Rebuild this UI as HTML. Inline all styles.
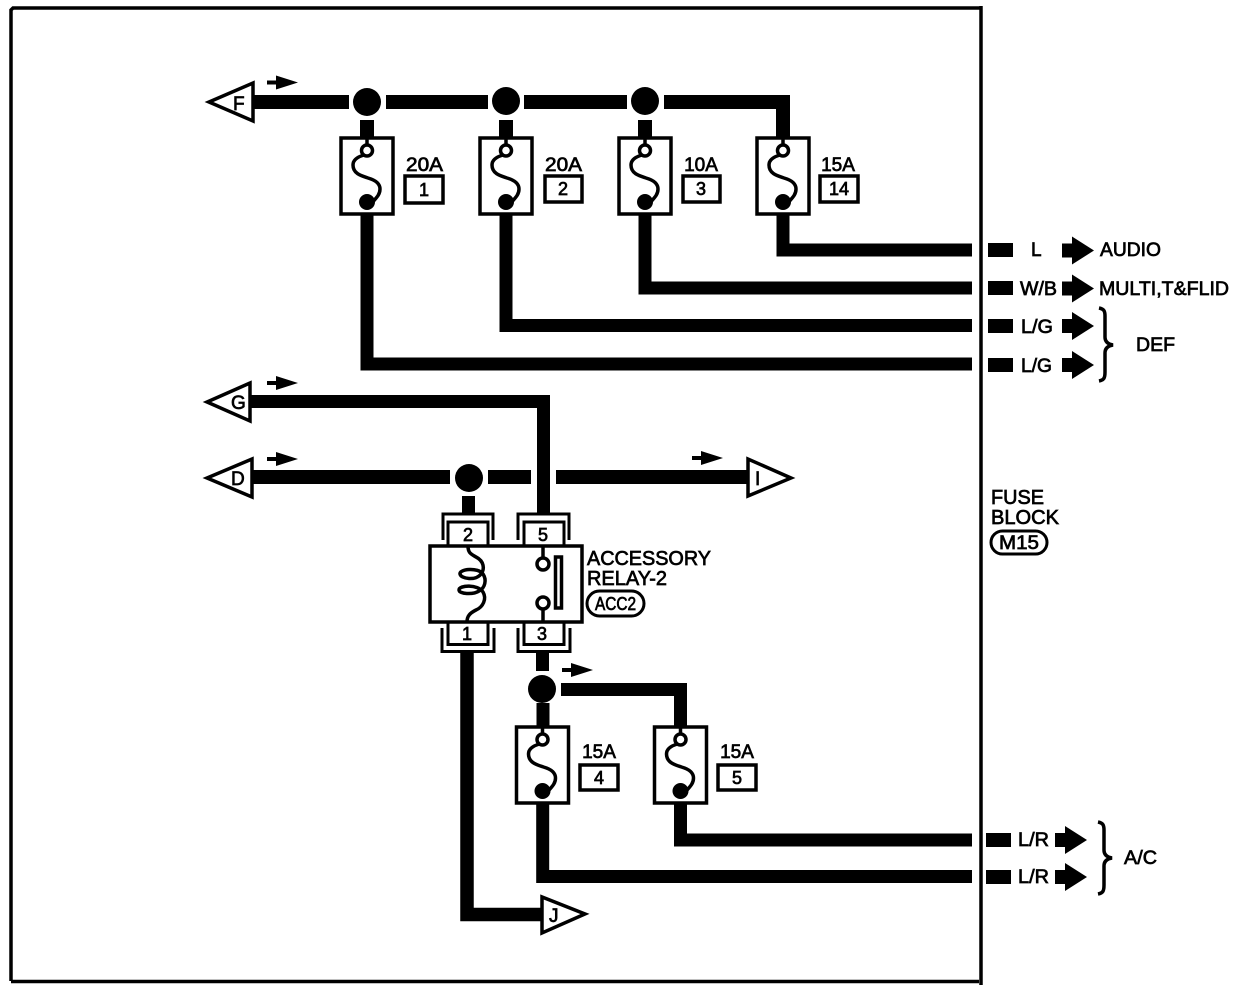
<!DOCTYPE html>
<html><head><meta charset="utf-8"><style>
html,body{margin:0;padding:0;background:#fff}
svg{display:block}
text{font-family:"Liberation Sans",sans-serif;fill:#000;stroke:#000;stroke-width:.7}
</style></head><body>
<svg width="1248" height="990" viewBox="0 0 1248 990" xmlns="http://www.w3.org/2000/svg">
<defs>
<g id="fuse">
<rect x="-26" y="0" width="52" height="76" fill="#fff" stroke="#000" stroke-width="3.5"/>
<path d="M0 0V7" stroke="#000" stroke-width="3.5" fill="none"/>
<path d="M-3 17C-10 19 -14 22 -14 27C-14 36 -5 38 1 40C8 42 13 45 13 51C13 57 9 60 4 66" stroke="#000" stroke-width="3.5" fill="none"/>
<circle cx="0" cy="12.500" r="5.500" fill="#fff" stroke="#000" stroke-width="3.500"/>
<circle cx="0" cy="64" r="8" fill="#000"/>
</g>
<g id="out"><rect x="0" y="-7" width="10" height="14"/><path d="M10 -6H10V-14L32 0L10 14V6Z"/></g>
<path id="sm" d="M0 -2H9V-7L31 0L9 7V2H0Z"/>
</defs>
<!-- frame -->
<path d="M11 981V10L13 8H981M981 6V985M11 981.5H979" fill="none" stroke="#000" stroke-width="3.5"/>
<!-- top bus -->
<g fill="none" stroke="#000">
<path d="M250 102H349M386 102H488M524 102H627M664 102H783V140" stroke-width="14"/>
<path d="M367 120V140M506 120V140M645 120V140" stroke-width="14"/>
<path d="M367 214V364H972M506 214V325.500H972M645 214V288H972M783 214V250H972" stroke-width="13"/>
</g>
<g fill="#000">
<circle cx="367" cy="102" r="14"/><circle cx="506" cy="101" r="14"/><circle cx="645" cy="101" r="14"/>
</g>
<use href="#fuse" x="367" y="138"/><use href="#fuse" x="506" y="138"/><use href="#fuse" x="645" y="138"/><use href="#fuse" x="783" y="138"/>
<!-- left/right connectors -->
<g fill="#fff" stroke="#000" stroke-width="3.500" stroke-linejoin="miter">
<path d="M253 83V121L209 102Z"/>
<path d="M250 383V421L207 402Z"/>
<path d="M252 459V497L207 478Z"/>
<path d="M748 459V496L791 478Z"/>
<path d="M542 897V933L585 914Z"/>
</g>
<g font-size="19">
<text x="233" y="110">F</text><text x="231" y="409">G</text><text x="231" y="485">D</text><text x="755" y="485">I</text><text x="549" y="922">J</text>
</g>
<!-- small arrows -->
<use href="#sm" x="267" y="82.500"/><use href="#sm" x="267" y="383"/><use href="#sm" x="267" y="459"/><use href="#sm" x="692" y="458"/><use href="#sm" x="562" y="670"/>
<!-- G, D, I wires -->
<g fill="none" stroke="#000">
<path d="M250 401.500H543.500V515" stroke-width="13"/>
<path d="M252 477H450M488 477H531M556 477H748" stroke-width="14"/>
<path d="M468.500 496V515" stroke-width="13"/>
<path d="M467 650V914.500H542" stroke-width="13.500"/>
<path d="M542.500 650V671" stroke-width="13"/>
<path d="M543 703V730" stroke-width="13"/>
<path d="M561 689.500H680.500V730" stroke-width="13"/>
<path d="M542.700 800V876.500H972M680.500 800V840H972" stroke-width="13"/>
</g>
<circle cx="469" cy="478" r="14" fill="#000"/>
<circle cx="542" cy="689" r="14" fill="#000"/>
<!-- relay sockets -->
<g fill="none" stroke="#000" stroke-width="3">
<path d="M443 540V514H493V540M448 545V522H488V545"/>
<path d="M518 540V514H569V540M524 545V522H564V545"/>
<path d="M442 628V651.500H494V628M448 623V644.500H488V623"/>
<path d="M518 628V651.500H570V628M524 623V644.500H564V623"/>
</g>
<rect x="430" y="546" width="152" height="76" fill="#fff" stroke="#000" stroke-width="3.500"/>
<g font-size="18" text-anchor="middle">
<text x="468" y="541">2</text><text x="543" y="541">5</text><text x="467" y="640">1</text><text x="542" y="640">3</text>
</g>
<g fill="none" stroke="#000" stroke-width="3.500">
<path d="M468 546C468 553 471 554 476 557C484 561 485 569 481 574C476 581 461 579 460 574C459 569 478 567 483 574C487 580 485 588 479 591C473 595 459 594 459 590C459 585 478 584 483 592C487 599 483 607 476 610C470 613 467 616 467 622"/>
<path d="M543 546V559M543 609V622"/>
<circle cx="543" cy="564" r="6" fill="#fff"/><circle cx="543" cy="603" r="6" fill="#fff"/>
<rect x="555.500" y="557" width="6" height="51"/>
</g>
<g font-size="20">
<text x="587" y="565" textLength="124" lengthAdjust="spacingAndGlyphs">ACCESSORY</text>
<text x="587" y="585" textLength="80" lengthAdjust="spacingAndGlyphs">RELAY-2</text>
</g>
<rect x="587" y="591" width="57" height="25" rx="12.500" fill="#fff" stroke="#000" stroke-width="3"/>
<text x="595" y="610" font-size="18" textLength="41" lengthAdjust="spacingAndGlyphs">ACC2</text>
<!-- lower fuses -->
<use href="#fuse" x="542.500" y="727"/><use href="#fuse" x="680.500" y="727"/>
<!-- fuse labels -->
<g font-size="19" text-anchor="middle">
<text x="424.500" y="171" textLength="37" lengthAdjust="spacingAndGlyphs">20A</text><text x="563.500" y="171" textLength="37" lengthAdjust="spacingAndGlyphs">20A</text><text x="701" y="171">10A</text><text x="838" y="171">15A</text>
<text x="599" y="758">15A</text><text x="737" y="758">15A</text>
</g>
<g fill="#fff" stroke="#000" stroke-width="3.500">
<rect x="405" y="176" width="38" height="27"/><rect x="545" y="176" width="37" height="26"/><rect x="683" y="176" width="37" height="26"/><rect x="820" y="176" width="38" height="26"/>
<rect x="580" y="765" width="38" height="25"/><rect x="718" y="765" width="38" height="25"/>
</g>
<g font-size="18" text-anchor="middle">
<text x="424" y="196">1</text><text x="563" y="195">2</text><text x="701" y="195">3</text><text x="839" y="195">14</text>
<text x="599" y="784">4</text><text x="737" y="784">5</text>
</g>
<!-- outputs -->
<g fill="#000">
<rect x="988" y="243" width="25" height="14"/><rect x="988" y="281" width="25" height="14"/><rect x="988" y="319" width="25" height="14"/><rect x="988" y="358" width="25" height="14"/>
<rect x="986" y="833" width="25" height="14"/><rect x="986" y="870" width="25" height="14"/>
</g>
<use href="#out" x="1062" y="250.500"/><use href="#out" x="1062" y="288.500"/><use href="#out" x="1062" y="326"/><use href="#out" x="1062" y="365"/>
<use href="#out" x="1055" y="840"/><use href="#out" x="1055" y="877"/>
<g font-size="19">
<text x="1031" y="256">L</text>
<text x="1020" y="295" textLength="37" lengthAdjust="spacingAndGlyphs">W/B</text>
<text x="1021" y="333" textLength="32" lengthAdjust="spacingAndGlyphs">L/G</text>
<text x="1021" y="372" textLength="31" lengthAdjust="spacingAndGlyphs">L/G</text>
<text x="1018" y="846" textLength="31" lengthAdjust="spacingAndGlyphs">L/R</text>
<text x="1018" y="883" textLength="31" lengthAdjust="spacingAndGlyphs">L/R</text>
<text x="1100" y="256" textLength="61" lengthAdjust="spacingAndGlyphs">AUDIO</text>
<text x="1099" y="295" textLength="130" lengthAdjust="spacingAndGlyphs">MULTI,T&amp;FLID</text>
<text x="1136" y="351" textLength="39" lengthAdjust="spacingAndGlyphs">DEF</text>
<text x="1124" y="864" textLength="33" lengthAdjust="spacingAndGlyphs">A/C</text>
</g>
<g fill="none" stroke="#000" stroke-width="3.500">
<path d="M1099 308C1104 309 1105 311 1105 316V337C1105 341 1107 344 1113 345C1107 346 1105 349 1105 353V372C1105 378 1104 380 1099 381"/>
<path d="M1098 822C1103 823 1104 825 1104 830V850C1104 854 1106 857 1112 858C1106 859 1104 862 1104 866V885C1104 891 1103 893 1098 894"/>
</g>
<!-- fuse block label -->
<g font-size="20">
<text x="991" y="504" textLength="53" lengthAdjust="spacingAndGlyphs">FUSE</text>
<text x="991" y="524" textLength="68" lengthAdjust="spacingAndGlyphs">BLOCK</text>
</g>
<rect x="991" y="531" width="56" height="23" rx="11.500" fill="#fff" stroke="#000" stroke-width="3"/>
<text x="999" y="549" font-size="19" textLength="40" lengthAdjust="spacingAndGlyphs">M15</text>
</svg>
</body></html>
